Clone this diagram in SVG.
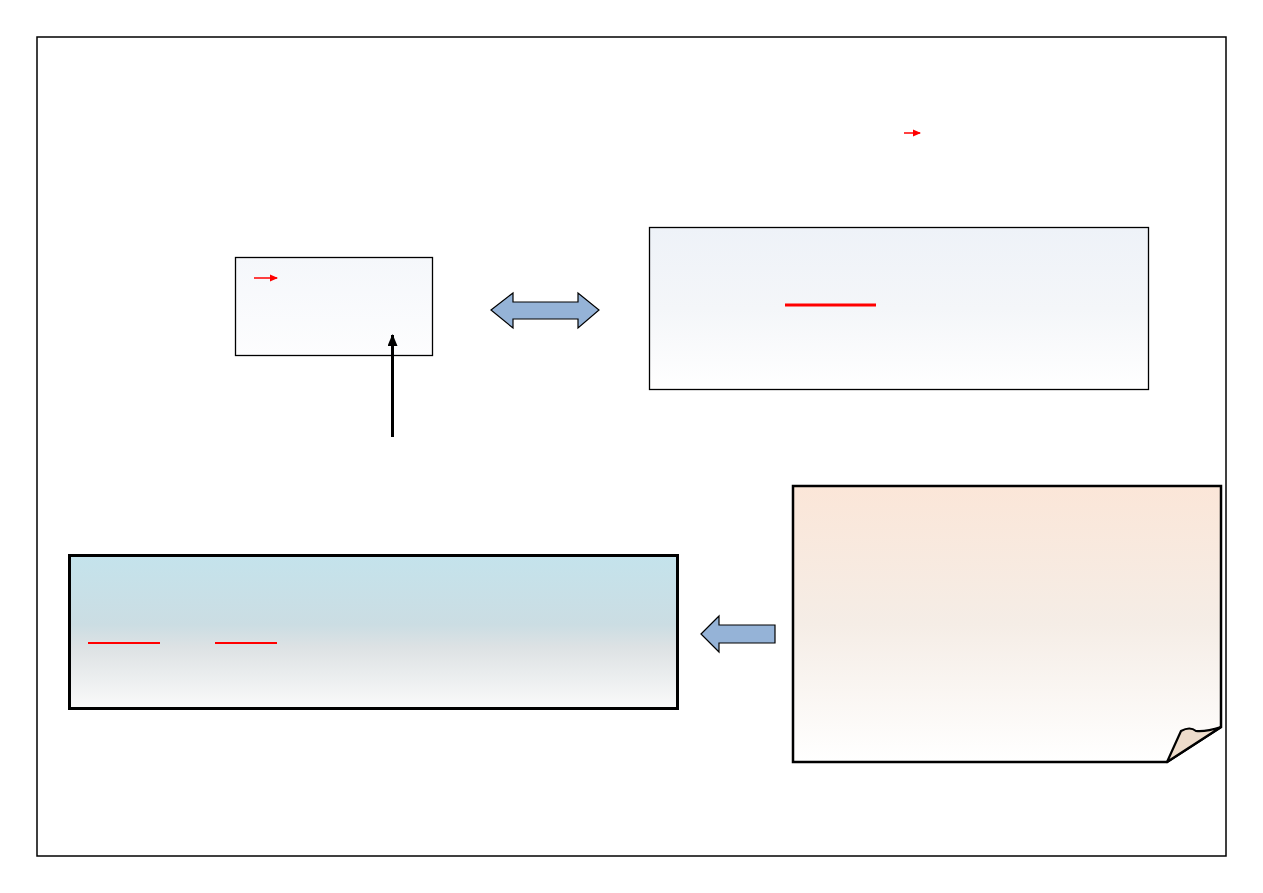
<svg xmlns="http://www.w3.org/2000/svg" width="1263" height="893" viewBox="0 0 1263 893">
<defs>
<linearGradient id="gBlue" x1="0" y1="0" x2="0" y2="1">
<stop offset="0" stop-color="#eef2f8"/>
<stop offset="0.5" stop-color="#f4f6f9"/>
<stop offset="1" stop-color="#ffffff"/>
</linearGradient>
<linearGradient id="gSmall" x1="0" y1="0" x2="0" y2="1">
<stop offset="0" stop-color="#f5f7fb"/>
<stop offset="1" stop-color="#fdfdfe"/>
</linearGradient>
<linearGradient id="gSky" x1="0" y1="0" x2="0" y2="1">
<stop offset="0" stop-color="#c4e3ec"/>
<stop offset="0.45" stop-color="#cbdde3"/>
<stop offset="0.6" stop-color="#dde2e4"/>
<stop offset="1" stop-color="#fafafa"/>
</linearGradient>
<linearGradient id="gPeach" x1="0" y1="0" x2="0" y2="1">
<stop offset="0" stop-color="#fbe6d8"/>
<stop offset="0.5" stop-color="#f5ede6"/>
<stop offset="1" stop-color="#ffffff"/>
</linearGradient>
<marker id="redHead" markerWidth="8" markerHeight="8" refX="7" refY="4" orient="auto" markerUnits="userSpaceOnUse">
<path d="M0,0.5 L8,4 L0,7.5 z" fill="#ff0000"/>
</marker>
<marker id="blackHead" markerWidth="12" markerHeight="12" refX="11" refY="5" orient="auto" markerUnits="userSpaceOnUse">
<path d="M0,0 L12,5 L0,10 z" fill="#000"/>
</marker>
<style>
.frame{fill:none;stroke:#000;stroke-width:1.5}
.block{fill:#95b3d7;stroke:#000;stroke-width:1.2;stroke-linejoin:miter}
.red{stroke:#ff0000;fill:none}
</style>
</defs>
<rect width="1263" height="893" fill="#fff"/>
<rect class="frame" x="37" y="37" width="1189" height="819"/>

<g id="node-small">
<rect x="235.5" y="257.5" width="197" height="98" fill="url(#gSmall)" stroke="#000" stroke-width="1.3"/>
<line class="red" x1="254" y1="278" x2="277" y2="278" stroke-width="1.5" marker-end="url(#redHead)"/>
</g>

<g id="node-right">
<rect x="649.5" y="227.5" width="499" height="162" fill="url(#gBlue)" stroke="#000" stroke-width="1.3"/>
<line class="red" x1="785" y1="305" x2="876" y2="305" stroke-width="3"/>
</g>

<g id="node-bottom">
<rect x="69.5" y="555.5" width="608" height="153" fill="url(#gSky)" stroke="#000" stroke-width="3"/>
<line class="red" x1="88" y1="643" x2="160" y2="643" stroke-width="2"/>
<line class="red" x1="215" y1="643" x2="277" y2="643" stroke-width="2"/>
</g>

<g id="node-note">
<path d="M793,486 L1221,486 L1221,727 L1167,762 L793,762 Z" fill="url(#gPeach)" stroke="#000" stroke-width="2.5" stroke-linejoin="miter"/>
<path d="M1167,762 L1181,731 Q1190,726 1196,731 Q1206,732 1221,727 Z" fill="#eedccb" stroke="#000" stroke-width="2.2" stroke-linejoin="round"/>
</g>

<g id="node-redarrow-top">
<line class="red" x1="904" y1="133" x2="920" y2="133" stroke-width="1.5" marker-end="url(#redHead)"/>
</g>

<g id="connectors">
<path class="block" d="M491,310 L513,293 L513,302 L578,302 L578,293 L599,310 L578,328 L578,319 L513,319 L513,328 Z"/>
<path class="block" d="M701,634 L719,616 L719,625 L775,625 L775,643 L719,643 L719,652 Z"/>
<line x1="392.5" y1="437" x2="392.5" y2="335" stroke="#000" stroke-width="3" marker-end="url(#blackHead)"/>
</g>
</svg>
